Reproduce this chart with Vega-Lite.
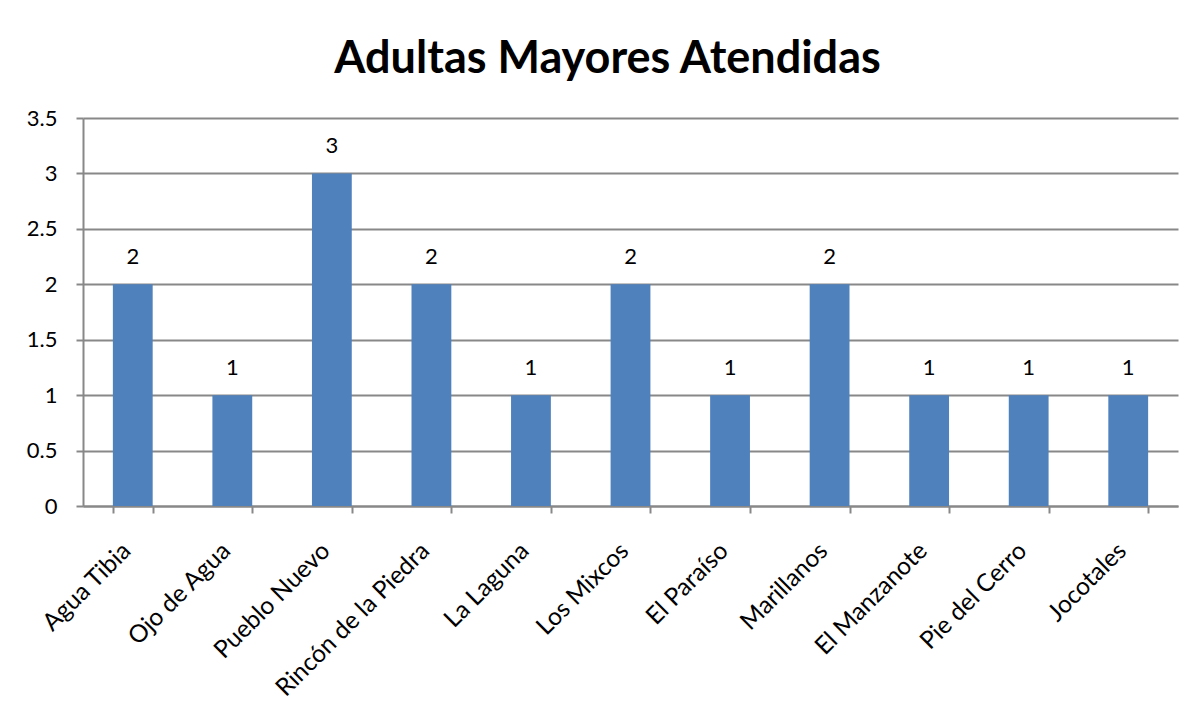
{
  "$schema": "https://vega.github.io/schema/vega-lite/v6.json",
  "autosize": {"type": "none"},
  "width": 1095,
  "height": 388,
  "padding": {"left": 83, "top": 118, "right": 26, "bottom": 205},
  "background": "white",
  "title": {
    "text": "Adultas Mayores Atendidas",
    "font": "Lato",
    "fontSize": 45,
    "fontWeight": "bold",
    "color": "black",
    "anchor": "middle",
    "dx": -23,
    "offset": 25
  },
  "config": {
    "view": {"stroke": null},
    "axis": {"labelFont": "Lato", "labelColor": "black", "domainColor": "#888888", "tickColor": "#888888", "gridColor": "#888888", "gridOpacity": 1, "domainWidth": 2, "tickWidth": 2, "gridWidth": 2}
  },
  "data": {
    "values": [
      {"lugar": "Agua Tibia", "n": 2},
      {"lugar": "Ojo de Agua", "n": 1},
      {"lugar": "Pueblo Nuevo", "n": 3},
      {"lugar": "Rincón de la Piedra", "n": 2},
      {"lugar": "La Laguna", "n": 1},
      {"lugar": "Los Mixcos", "n": 2},
      {"lugar": "El Paraíso", "n": 1},
      {"lugar": "Marillanos", "n": 2},
      {"lugar": "El Manzanote", "n": 1},
      {"lugar": "Pie del Cerro", "n": 1},
      {"lugar": "Jocotales", "n": 1}
    ]
  },
  "encoding": {
    "x": {
      "field": "lugar", "type": "nominal", "sort": null, "title": null,
      "scale": {"paddingInner": 0.6, "paddingOuter": 0.3},
      "axis": {"labelAngle": -45, "labelAlign": "right", "labelBaseline": "middle", "labelFontSize": 24.5, "labelPadding": 34, "labelOffset": -6, "tickBand": "extent", "tickSize": 7, "grid": false, "labelLimit": 300}
    },
    "y": {
      "field": "n", "type": "quantitative", "title": null,
      "scale": {"domain": [0, 3.5], "nice": false},
      "axis": {"values": [0, 0.5, 1, 1.5, 2, 2.5, 3, 3.5], "format": ".1~f", "labelFontSize": 22, "tickSize": 7, "labelPadding": 19, "grid": true}
    }
  },
  "layer": [
    {"mark": {"type": "bar", "color": "#4F81BD"}},
    {"mark": {"type": "text", "font": "Lato", "fontSize": 22, "dy": -27, "baseline": "middle", "color": "black"}, "encoding": {"text": {"field": "n", "type": "quantitative"}}}
  ]
}
